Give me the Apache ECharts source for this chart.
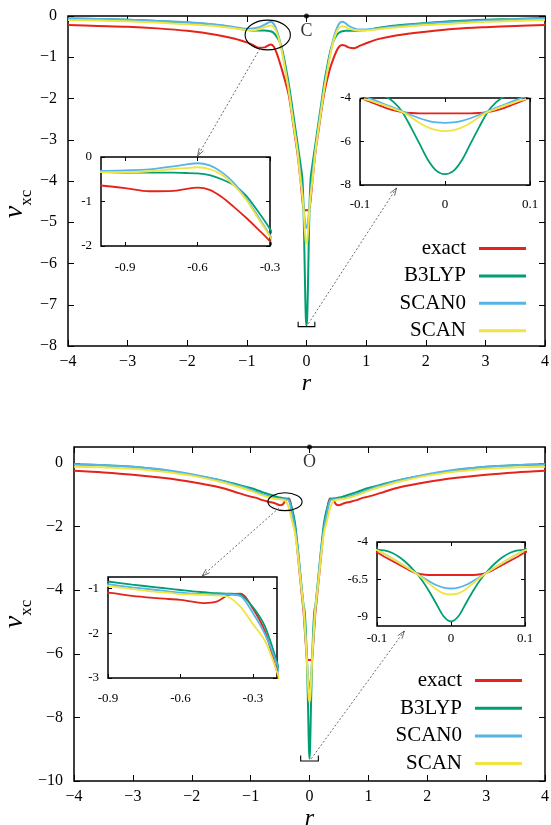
<!DOCTYPE html>
<html><head><meta charset="utf-8">
<script src="https://cdn.jsdelivr.net/npm/echarts@6/dist/echarts.min.js"></script>
<style>html,body{margin:0;padding:0;background:#fff}#c{width:551px;height:825px}</style>
</head><body><div id="c"></div>
<script>
// ---- data ----
const R = [-4,-3.5,-3,-2.5,-2,-1.5,-1.2,-1,-0.9,-0.8,-0.7,-0.65,-0.6,-0.55,-0.5,-0.45,-0.4,-0.35,-0.3,-0.25,-0.2,-0.15,-0.1,
  -0.09,-0.08,-0.07,-0.06,-0.05,-0.04,-0.03,-0.02,-0.01,0,0.01,0.02,0.03,0.04,0.05,0.06,0.07,0.08,0.09,
  0.1,0.15,0.2,0.25,0.3,0.35,0.4,0.45,0.5,0.55,0.6,0.65,0.7,0.8,0.9,1,1.2,1.5,2,2.5,3,3.5,4];

// Carbon atom (top panel)
const exactC = [-0.22,-0.24,-0.26,-0.30,-0.36,-0.46,-0.55,-0.64,-0.70,-0.77,-0.76,-0.72,-0.69,-0.74,-0.90,-1.12,-1.36,-1.62,-1.90,-2.35,-2.85,-3.35,-4.00,
  -4.15,-4.30,-4.45,-4.57,-4.65,-4.69,-4.71,-4.71,-4.71,-4.71,-4.71,-4.71,-4.71,-4.69,-4.65,-4.57,-4.45,-4.30,-4.15,
  -4.00,-3.30,-2.80,-2.30,-1.85,-1.52,-1.25,-1.04,-0.86,-0.74,-0.70,-0.72,-0.76,-0.78,-0.72,-0.66,-0.56,-0.47,-0.38,-0.31,-0.27,-0.24,-0.22];
const b3lypC = [-0.06,-0.07,-0.09,-0.12,-0.16,-0.22,-0.29,-0.34,-0.35,-0.35,-0.35,-0.36,-0.37,-0.41,-0.50,-0.63,-0.86,-1.22,-1.62,-2.10,-2.60,-3.10,-3.60,
  -3.70,-3.80,-3.93,-4.20,-4.65,-5.35,-6.10,-6.85,-7.35,-7.50,-7.35,-6.85,-6.10,-5.35,-4.65,-4.20,-3.93,-3.80,-3.70,
  -3.60,-3.10,-2.60,-2.10,-1.60,-1.20,-0.85,-0.62,-0.48,-0.40,-0.37,-0.36,-0.36,-0.36,-0.35,-0.34,-0.29,-0.23,-0.17,-0.12,-0.09,-0.07,-0.05];
const scan0C = [-0.06,-0.07,-0.09,-0.12,-0.15,-0.21,-0.27,-0.31,-0.30,-0.28,-0.21,-0.17,-0.14,-0.19,-0.34,-0.58,-0.92,-1.33,-1.76,-2.25,-2.75,-3.25,-3.85,
  -4.00,-4.14,-4.30,-4.45,-4.61,-4.78,-4.93,-5.05,-5.12,-5.14,-5.12,-5.05,-4.93,-4.78,-4.61,-4.45,-4.30,-4.14,-4.00,
  -3.85,-3.22,-2.70,-2.20,-1.72,-1.30,-0.90,-0.56,-0.33,-0.18,-0.14,-0.17,-0.23,-0.30,-0.33,-0.33,-0.30,-0.25,-0.18,-0.14,-0.11,-0.08,-0.06];
const scanC = [-0.10,-0.11,-0.13,-0.16,-0.20,-0.25,-0.30,-0.34,-0.34,-0.32,-0.27,-0.25,-0.23,-0.27,-0.40,-0.63,-0.95,-1.37,-1.79,-2.30,-2.80,-3.30,-4.00,
  -4.10,-4.22,-4.35,-4.50,-4.65,-4.88,-5.15,-5.35,-5.48,-5.52,-5.48,-5.35,-5.15,-4.88,-4.65,-4.50,-4.35,-4.22,-4.10,
  -4.00,-3.28,-2.75,-2.25,-1.75,-1.33,-0.93,-0.62,-0.40,-0.28,-0.25,-0.26,-0.30,-0.34,-0.35,-0.35,-0.32,-0.28,-0.22,-0.18,-0.14,-0.12,-0.10];

// Oxygen atom (bottom panel)
const exactO = [-0.25,-0.30,-0.37,-0.47,-0.60,-0.78,-0.95,-1.06,-1.10,-1.17,-1.22,-1.24,-1.26,-1.30,-1.33,-1.30,-1.15,-1.12,-1.45,-1.96,-2.86,-3.80,-4.70,
  -4.98,-5.25,-5.52,-5.78,-6.02,-6.15,-6.20,-6.20,-6.20,-6.20,-6.20,-6.20,-6.20,-6.15,-6.02,-5.78,-5.52,-5.25,-4.98,
  -4.70,-3.80,-2.86,-1.96,-1.45,-1.12,-1.15,-1.30,-1.33,-1.30,-1.26,-1.24,-1.22,-1.17,-1.10,-1.06,-0.95,-0.78,-0.60,-0.47,-0.37,-0.30,-0.25];
const b3lypO = [-0.04,-0.07,-0.12,-0.22,-0.38,-0.55,-0.69,-0.79,-0.85,-0.92,-0.98,-1.01,-1.04,-1.07,-1.09,-1.11,-1.12,-1.15,-1.42,-1.85,-2.65,-3.60,-4.50,
  -4.56,-4.72,-5.00,-5.40,-5.90,-6.50,-7.25,-8.10,-8.95,-9.30,-8.95,-8.10,-7.25,-6.50,-5.90,-5.40,-5.00,-4.72,-4.56,
  -4.50,-3.60,-2.65,-1.85,-1.42,-1.15,-1.12,-1.11,-1.09,-1.07,-1.04,-1.01,-0.98,-0.92,-0.85,-0.79,-0.69,-0.55,-0.38,-0.22,-0.12,-0.07,-0.04];
const scan0O = [-0.04,-0.07,-0.12,-0.21,-0.36,-0.56,-0.72,-0.84,-0.91,-0.98,-1.04,-1.07,-1.10,-1.12,-1.13,-1.14,-1.14,-1.18,-1.55,-2.02,-2.70,-3.65,-4.55,
  -4.80,-5.08,-5.38,-5.68,-5.98,-6.30,-6.60,-6.87,-7.04,-7.10,-7.04,-6.87,-6.60,-6.30,-5.98,-5.68,-5.38,-5.08,-4.80,
  -4.55,-3.65,-2.70,-2.02,-1.55,-1.18,-1.14,-1.14,-1.13,-1.12,-1.10,-1.07,-1.04,-0.98,-0.91,-0.84,-0.72,-0.56,-0.36,-0.21,-0.12,-0.07,-0.04];
const scanO = [-0.12,-0.14,-0.18,-0.27,-0.40,-0.60,-0.76,-0.88,-0.95,-1.02,-1.08,-1.10,-1.13,-1.14,-1.15,-1.16,-1.20,-1.42,-1.80,-2.17,-2.86,-3.75,-4.55,
  -4.80,-5.08,-5.38,-5.68,-6.00,-6.35,-6.75,-7.15,-7.42,-7.50,-7.42,-7.15,-6.75,-6.35,-6.00,-5.68,-5.38,-5.08,-4.80,
  -4.55,-3.75,-2.86,-2.17,-1.80,-1.42,-1.20,-1.16,-1.15,-1.14,-1.13,-1.10,-1.08,-1.02,-0.95,-0.88,-0.76,-0.60,-0.40,-0.27,-0.18,-0.14,-0.12];

const names = ['exact', 'B3LYP', 'SCAN0', 'SCAN'];
const atomLabels = ['C', 'O'];

// tick values
const mainXTicks = [-4,-3,-2,-1,0,1,2,3,4];
const mainYTicksC = [0,-1,-2,-3,-4,-5,-6,-7,-8];
const mainYTicksO = [0,-2,-4,-6,-8,-10];
const in1XTicks = [-0.9,-0.6,-0.3], in1YTicks = [0,-1,-2];
const in2XTicks = [-0.1,0,0.1],   in2YTicks = [-4,-6,-8];
const in3XTicks = [-0.9,-0.6,-0.3], in3YTicks = [-1,-2,-3];
const in4XTicks = [-0.1,0,0.1],   in4YTicks = [-4,-6.5,-9];

// ---- presentation ----
const colors = ['#e5231b', '#009e73', '#56b4e9', '#f0e442'];
const FF = '"Liberation Serif", "DejaVu Serif", serif';
const minusFmt = v => (v < 0 ? '\u2212' + (-v) : String(v));
const hyFmt = v => (Math.abs(v) < 1e-9 ? '0' : String(+v.toFixed(2)));

const grids = [
  {left: 68,  top: 16,  width: 477, height: 330, z: 0},   // 0 main C
  {left: 101, top: 157, width: 169, height: 89,  z: 5},   // 1 inset C left
  {left: 360, top: 98,  width: 170, height: 87,  z: 5},   // 2 inset C right
  {left: 74,  top: 447, width: 471, height: 334, z: 0},   // 3 main O
  {left: 108, top: 577, width: 169, height: 101, z: 5},   // 4 inset O left
  {left: 377, top: 542, width: 148, height: 84,  z: 5}    // 5 inset O right
].map(g => Object.assign({show: true, borderColor: '#000', borderWidth: 1.5, backgroundColor: '#fff',
  containLabel: false, outerBoundsMode: 'none'}, g));

const axCfg = [
  // [xmin,xmax,xticks,ymin,ymax,yticks,fmt,fontSize,tickLen,isMain,xLabelMargin]
  [-4, 4, mainXTicks, -8, 0, mainYTicksC, minusFmt, 16, 6, true, 8],
  [-1, -0.3, in1XTicks, -2, 0, in1YTicks, hyFmt, 13, 4, false, 15],
  [-0.1, 0.1, in2XTicks, -8, -4, in2YTicks, hyFmt, 13, 4, false, 13],
  [-4, 4, mainXTicks, -10, 0.5, mainYTicksO, minusFmt, 16, 6, true, 8],
  [-0.9, -0.2, in3XTicks, -3, -0.75, in3YTicks, hyFmt, 13, 4, false, 14],
  [-0.1, 0.1, in4XTicks, -9.6, -4, in4YTicks, hyFmt, 13, 4, false, 6]
];

const xAxis = [], yAxis = [];
axCfg.forEach((c, g) => {
  const [xmin, xmax, xt, ymin, ymax, yt, fmt, fs, tl, isMain, xm] = c;
  const z = isMain ? 1 : 7;
  const line = {show: false, onZero: false};
  const tick = vals => ({show: true, inside: true, length: tl, customValues: vals, lineStyle: {color: '#000', width: 1}});
  const lab = (vals, show, margin) => ({show, customValues: vals, formatter: fmt, fontSize: fs, fontFamily: FF, color: '#000', margin});
  const xb = {type: 'value', gridIndex: g, min: xmin, max: xmax, position: 'bottom', z,
    axisLine: line, splitLine: {show: false}, axisTick: tick(xt), axisLabel: lab(xt, true, xm)};
  if (isMain) {
    xb.name = 'r'; xb.nameLocation = 'middle'; xb.nameGap = 26; xb.nameMoveOverlap = false;
    xb.nameTextStyle = {fontSize: 24, fontStyle: 'italic', fontFamily: FF, color: '#000'};
  }
  xAxis.push(xb);
  xAxis.push({type: 'value', gridIndex: g, min: xmin, max: xmax, position: 'top', z,
    axisLine: line, splitLine: {show: false}, axisTick: tick(xt), axisLabel: {show: false}});
  const yl = {type: 'value', gridIndex: g, min: ymin, max: ymax, position: 'left', z,
    axisLine: line, splitLine: {show: false}, axisTick: tick(yt), axisLabel: lab(yt, true, isMain ? 11 : 9)};
  if (isMain) {
    yl.name = '{v|v}{s|xc}'; yl.nameLocation = 'middle'; yl.nameRotate = 90; yl.nameMoveOverlap = false;
    yl.nameGap = g === 0 ? 33 : 39;
    yl.nameTextStyle = {color: '#000', padding: g === 0 ? [0, 46, 0, 0] : [0, 0, 0, 0], rich: {
      v: {fontSize: 28, fontStyle: 'italic', fontFamily: FF, color: '#000', padding: [0, 0, 6, 0], verticalAlign: 'bottom'},
      s: {fontSize: 17, fontFamily: FF, color: '#000', verticalAlign: 'bottom'}
    }};
  }
  yAxis.push(yl);
  yAxis.push({type: 'value', gridIndex: g, min: ymin, max: ymax, position: 'right', z,
    axisLine: line, splitLine: {show: false}, axisTick: tick(yt), axisLabel: {show: false}});
});

const panelData = [[exactC, b3lypC, scan0C, scanC], [exactO, b3lypO, scan0O, scanO]];
const series = [];
[[0, 1, 2], [3, 4, 5]].forEach((gs, p) => {
  gs.forEach((g, k) => {
    const inset = k > 0;
    panelData[p].forEach((vals, m) => {
      series.push({
        type: 'line', name: names[m], xAxisIndex: 2 * g, yAxisIndex: 2 * g,
        data: R.map((r, i) => [r, vals[i]]),
        showSymbol: false, smooth: 0.3, clip: true, silent: true, animation: false,
        lineStyle: {color: colors[m], width: inset ? 1.8 : 2},
        itemStyle: {color: colors[m]},
        z: inset ? 6 : 2
      });
    });
  });
  // atom position marker on the top edge of the main plot
  const g = gs[0];
  series.push({
    type: 'scatter', name: 'atom' + p, xAxisIndex: 2 * g, yAxisIndex: 2 * g,
    data: [[0, axCfg[g][4]]], symbol: 'circle', symbolSize: 5, clip: false, silent: true,
    itemStyle: {color: '#000'}, z: 4, animation: false,
    label: {show: true, position: 'bottom', distance: 4, formatter: atomLabels[p], fontSize: 18, fontFamily: FF, color: '#000'}
  });
});

const legendBase = {
  data: names, orient: 'vertical', align: 'right', icon: 'rect', itemWidth: 47, itemHeight: 3,
  padding: 0, selectedMode: false,
  textStyle: {fontSize: 21, fontFamily: FF, color: '#000', lineHeight: 20, padding: [0, 8, 0, 0]}
};

const option = {
  animation: false,
  backgroundColor: '#fff',
  grid: grids,
  xAxis, yAxis, series,
  legend: [
    Object.assign({}, legendBase, {right: 25, top: 238, itemGap: 6.4}),
    Object.assign({}, legendBase, {right: 29, top: 670, itemGap: 6.7})
  ]
};

const chart = echarts.init(document.getElementById('c'), null, {renderer: 'canvas'});
chart.setOption(option);

// ---- annotations (ellipses, brackets, dotted arrows), placed in data coordinates ----
const px = (g, pt) => chart.convertToPixel({xAxisIndex: 2 * g, yAxisIndex: 2 * g}, pt);
const thin = {stroke: '#444', lineWidth: 0.8, lineDash: [2, 2], fill: 'none'};
const solid = {stroke: '#000', lineWidth: 1.1, fill: 'none'};
function arrow(p0, p1) {
  const ang = Math.atan2(p1[1] - p0[1], p1[0] - p0[0]);
  const L = 8, a = 0.32;
  const h1 = [p1[0] - L * Math.cos(ang - a), p1[1] - L * Math.sin(ang - a)];
  const h2 = [p1[0] - L * Math.cos(ang + a), p1[1] - L * Math.sin(ang + a)];
  return [
    {type: 'polyline', silent: true, z: 100, shape: {points: [p0, p1]}, style: thin},
    {type: 'polyline', silent: true, z: 100, shape: {points: [h1, p1, h2]}, style: {stroke: '#444', lineWidth: 0.8, fill: 'none'}}
  ];
}
function ellipse(g, c, rx, ry) {
  const p = px(g, c), q = px(g, [c[0] + rx, c[1] - ry]);
  return {type: 'ellipse', silent: true, z: 100, shape: {cx: p[0], cy: p[1], rx: q[0] - p[0], ry: q[1] - p[1]}, style: solid};
}
function bracket(g, x0, x1, yTop, yBot) {
  return {type: 'polyline', silent: true, z: 100,
    shape: {points: [px(g, [x0, yTop]), px(g, [x0, yBot]), px(g, [x1, yBot]), px(g, [x1, yTop])]}, style: solid};
}
const shift = (p, dy) => [p[0], p[1] + dy];
const graphic = [].concat(
  [ellipse(0, [-0.65, -0.46], 0.38, 0.36)],
  arrow(px(0, [-0.78, -0.79]), shift(px(1, [-0.6, 0]), -1)),
  [bracket(0, -0.14, 0.14, -7.41, -7.53)],
  arrow(px(0, [0.03, -7.46]), shift(px(2, [-0.057, -8]), 3)),
  [ellipse(3, [-0.416, -1.22], 0.29, 0.28)],
  arrow(px(3, [-0.52, -1.42]), shift(px(4, [-0.51, -0.75]), -1)),
  [bracket(3, -0.15, 0.15, -9.2, -9.37)],
  arrow(px(3, [0.03, -9.3]), shift(px(5, [-0.063, -9.6]), 5))
);
chart.setOption({graphic: {elements: graphic}});
</script>
</body></html>
